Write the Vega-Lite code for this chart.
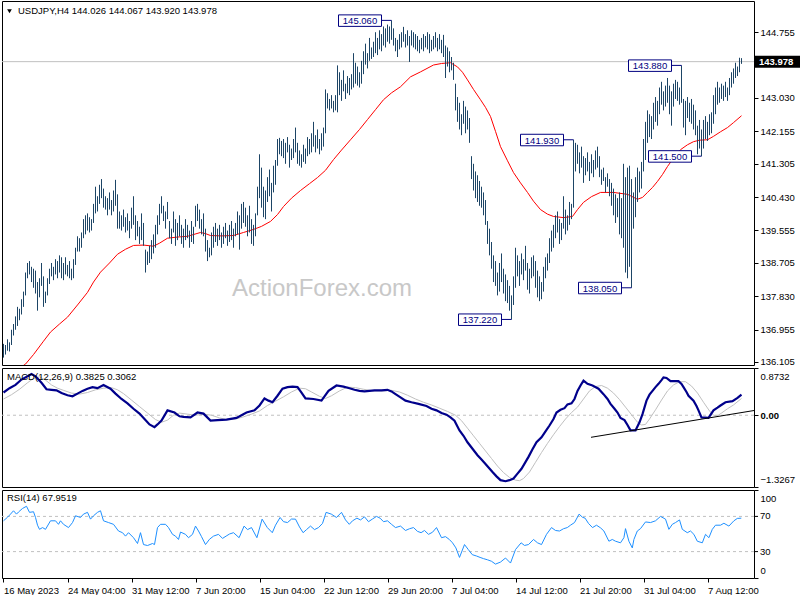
{
"$schema":"https://vega.github.io/schema/vega-lite/v6.json",
"background":"white",
"padding":{"left":-2,"top":0,"right":0,"bottom":0},
"bounds":"flush",
"spacing":3,
"config":{"view":{"stroke":"#000000","strokeWidth":1},"font":"Liberation Sans","axis":{"labelFont":"Liberation Sans","labelFontSize":9.5,"labelColor":"#000000","tickColor":"#000000","domain":false,"grid":false,"title":null,"labelOverlap":false}},
"datasets":{
"bars":[
{"i":0,"high":136.58,"low":136.22},{"i":1,"high":136.55,"low":136.30},{"i":2,"high":136.70,"low":136.40},{"i":3,"high":136.62,"low":136.38},{"i":4,"high":136.95,"low":136.55},
{"i":5,"high":137.10,"low":136.80},{"i":6,"high":137.30,"low":136.95},{"i":7,"high":137.55,"low":137.05},{"i":8,"high":137.50,"low":137.20},{"i":9,"high":137.75,"low":137.35},
{"i":10,"high":137.95,"low":137.55},{"i":11,"high":138.45,"low":137.85},{"i":12,"high":138.70,"low":138.30},{"i":13,"high":138.75,"low":138.40},{"i":14,"high":138.60,"low":138.20},
{"i":15,"high":138.55,"low":138.05},{"i":16,"high":138.50,"low":137.90},{"i":17,"high":138.20,"low":137.45},{"i":18,"high":138.30,"low":137.80},{"i":19,"high":138.70,"low":138.10},
{"i":20,"high":138.35,"low":137.55},{"i":21,"high":137.95,"low":137.65},{"i":22,"high":138.30,"low":137.85},{"i":23,"high":138.55,"low":138.15},{"i":24,"high":138.70,"low":138.35},
{"i":25,"high":138.60,"low":138.25},{"i":26,"high":138.80,"low":138.40},{"i":27,"high":138.75,"low":138.30},{"i":28,"high":138.90,"low":138.45},{"i":29,"high":138.85,"low":138.30},
{"i":30,"high":138.70,"low":138.25},{"i":31,"high":138.85,"low":138.40},{"i":32,"high":138.65,"low":138.35},{"i":33,"high":138.75,"low":138.30},{"i":34,"high":138.55,"low":138.25},
{"i":35,"high":138.80,"low":138.30},{"i":36,"high":139.10,"low":138.65},{"i":37,"high":139.40,"low":139.00},{"i":38,"high":139.35,"low":139.00},{"i":39,"high":139.50,"low":139.10},
{"i":40,"high":139.85,"low":139.35},{"i":41,"high":139.95,"low":139.45},{"i":42,"high":140.00,"low":139.55},{"i":43,"high":139.90,"low":139.50},{"i":44,"high":139.85,"low":139.55},
{"i":45,"high":140.25,"low":139.75},{"i":46,"high":140.70,"low":140.00},{"i":47,"high":140.45,"low":140.05},{"i":48,"high":140.75,"low":140.25},{"i":49,"high":140.90,"low":140.40},
{"i":50,"high":140.65,"low":140.15},{"i":51,"high":140.45,"low":140.10},{"i":52,"high":140.40,"low":139.95},{"i":53,"high":140.55,"low":140.10},{"i":54,"high":140.35,"low":139.95},
{"i":55,"high":140.60,"low":140.05},{"i":56,"high":140.88,"low":140.20},{"i":57,"high":140.50,"low":139.60},{"i":58,"high":140.05,"low":139.60},{"i":59,"high":139.95,"low":139.55},
{"i":60,"high":140.10,"low":139.65},{"i":61,"high":139.90,"low":139.50},{"i":62,"high":140.00,"low":139.55},{"i":63,"high":139.80,"low":139.35},{"i":64,"high":140.15,"low":139.60},
{"i":65,"high":140.45,"low":139.70},{"i":66,"high":139.95,"low":139.30},{"i":67,"high":139.80,"low":139.40},{"i":68,"high":139.65,"low":139.20},{"i":69,"high":140.00,"low":139.30},
{"i":70,"high":139.75,"low":139.15},{"i":71,"high":139.05,"low":138.45},{"i":72,"high":139.00,"low":138.65},{"i":73,"high":139.15,"low":138.70},{"i":74,"high":139.30,"low":138.80},
{"i":75,"high":139.45,"low":138.95},{"i":76,"high":139.70,"low":139.10},{"i":77,"high":139.95,"low":139.45},{"i":78,"high":140.25,"low":139.70},{"i":79,"high":140.45,"low":140.00},
{"i":80,"high":140.20,"low":139.80},{"i":81,"high":140.05,"low":139.60},{"i":82,"high":140.30,"low":139.85},{"i":83,"high":139.80,"low":139.35},{"i":84,"high":139.60,"low":139.20},
{"i":85,"high":140.05,"low":139.50},{"i":86,"high":139.85,"low":139.15},{"i":87,"high":139.75,"low":139.30},{"i":88,"high":139.95,"low":139.40},{"i":89,"high":139.70,"low":139.20},
{"i":90,"high":139.60,"low":139.10},{"i":91,"high":139.85,"low":139.30},{"i":92,"high":139.70,"low":139.35},{"i":93,"high":139.55,"low":139.10},{"i":94,"high":139.80,"low":139.25},
{"i":95,"high":139.65,"low":139.20},{"i":96,"high":140.20,"low":139.65},{"i":97,"high":140.25,"low":139.80},{"i":98,"high":140.10,"low":139.60},{"i":99,"high":139.85,"low":139.45},
{"i":100,"high":140.00,"low":139.40},{"i":101,"high":139.60,"low":139.00},{"i":102,"high":139.30,"low":138.75},{"i":103,"high":139.10,"low":138.85},{"i":104,"high":139.50,"low":138.90},
{"i":105,"high":139.65,"low":139.10},{"i":106,"high":139.75,"low":139.25},{"i":107,"high":139.60,"low":139.15},{"i":108,"high":139.70,"low":139.30},{"i":109,"high":139.50,"low":139.10},
{"i":110,"high":139.65,"low":139.20},{"i":111,"high":139.75,"low":139.35},{"i":112,"high":139.55,"low":139.15},{"i":113,"high":139.70,"low":139.25},{"i":114,"high":139.80,"low":139.30},
{"i":115,"high":139.60,"low":139.10},{"i":116,"high":139.75,"low":139.40},{"i":117,"high":140.05,"low":139.45},{"i":118,"high":139.95,"low":139.05},{"i":119,"high":140.25,"low":139.60},
{"i":120,"high":140.30,"low":139.75},{"i":121,"high":140.15,"low":139.65},{"i":122,"high":139.95,"low":139.40},{"i":123,"high":140.20,"low":139.50},{"i":124,"high":139.85,"low":139.20},
{"i":125,"high":139.70,"low":139.15},{"i":126,"high":140.00,"low":139.40},{"i":127,"high":140.70,"low":139.95},{"i":128,"high":141.55,"low":140.40},{"i":129,"high":141.20,"low":140.15},
{"i":130,"high":140.70,"low":139.90},{"i":131,"high":140.60,"low":139.85},{"i":132,"high":140.95,"low":140.30},{"i":133,"high":141.15,"low":140.45},{"i":134,"high":140.80,"low":140.05},
{"i":135,"high":141.25,"low":140.55},{"i":136,"high":141.40,"low":140.75},{"i":137,"high":141.95,"low":141.25},{"i":138,"high":141.98,"low":141.55},{"i":139,"high":141.90,"low":141.50},
{"i":140,"high":141.95,"low":141.45},{"i":141,"high":141.85,"low":141.30},{"i":142,"high":142.00,"low":141.60},{"i":143,"high":141.80,"low":141.20},{"i":144,"high":141.70,"low":141.40},
{"i":145,"high":141.95,"low":141.45},{"i":146,"high":142.25,"low":141.60},{"i":147,"high":141.85,"low":141.30},{"i":148,"high":141.65,"low":141.25},{"i":149,"high":141.55,"low":141.20},
{"i":150,"high":141.80,"low":141.35},{"i":151,"high":141.70,"low":141.30},{"i":152,"high":142.00,"low":141.50},{"i":153,"high":141.95,"low":141.55},{"i":154,"high":142.10,"low":141.60},
{"i":155,"high":142.40,"low":141.75},{"i":156,"high":142.05,"low":141.60},{"i":157,"high":142.20,"low":141.70},{"i":158,"high":141.95,"low":141.55},{"i":159,"high":142.10,"low":141.65},
{"i":160,"high":142.25,"low":141.75},{"i":161,"high":143.25,"low":142.10},{"i":162,"high":143.15,"low":142.75},{"i":163,"high":143.00,"low":142.70},{"i":164,"high":143.10,"low":142.75},
{"i":165,"high":142.95,"low":142.65},{"i":166,"high":143.10,"low":142.70},{"i":167,"high":143.88,"low":142.65},{"i":168,"high":143.70,"low":143.10},{"i":169,"high":143.50,"low":142.95},
{"i":170,"high":143.75,"low":143.20},{"i":171,"high":143.40,"low":143.00},{"i":172,"high":143.60,"low":143.15},{"i":173,"high":143.55,"low":143.10},{"i":174,"high":143.65,"low":143.25},
{"i":175,"high":144.20,"low":143.30},{"i":176,"high":143.95,"low":143.40},{"i":177,"high":143.85,"low":143.35},{"i":178,"high":143.70,"low":143.30},{"i":179,"high":144.00,"low":143.40},
{"i":180,"high":144.25,"low":143.65},{"i":181,"high":144.45,"low":143.90},{"i":182,"high":144.20,"low":143.80},{"i":183,"high":144.60,"low":144.00},{"i":184,"high":144.35,"low":144.05},
{"i":185,"high":144.50,"low":144.10},{"i":186,"high":144.75,"low":144.20},{"i":187,"high":144.60,"low":144.15},{"i":188,"high":144.80,"low":144.30},{"i":189,"high":144.70,"low":144.25},
{"i":190,"high":144.90,"low":144.40},{"i":191,"high":144.85,"low":144.35},{"i":192,"high":144.95,"low":144.50},{"i":193,"high":144.90,"low":144.45},{"i":194,"high":145.06,"low":144.55},
{"i":195,"high":144.85,"low":144.40},{"i":196,"high":144.60,"low":144.25},{"i":197,"high":144.55,"low":144.10},{"i":198,"high":144.70,"low":144.30},{"i":199,"high":144.75,"low":144.35},
{"i":200,"high":144.89,"low":144.50},{"i":201,"high":144.70,"low":144.35},{"i":202,"high":144.80,"low":144.40},{"i":203,"high":144.65,"low":143.97},{"i":204,"high":144.80,"low":144.40},
{"i":205,"high":144.75,"low":144.35},{"i":206,"high":144.70,"low":144.30},{"i":207,"high":144.65,"low":144.25},{"i":208,"high":144.55,"low":144.20},{"i":209,"high":144.60,"low":144.30},
{"i":210,"high":144.70,"low":144.25},{"i":211,"high":144.65,"low":144.35},{"i":212,"high":144.75,"low":144.30},{"i":213,"high":144.70,"low":144.20},{"i":214,"high":144.55,"low":144.25},
{"i":215,"high":144.65,"low":144.30},{"i":216,"high":144.75,"low":144.35},{"i":217,"high":144.60,"low":144.25},{"i":218,"high":144.70,"low":144.30},{"i":219,"high":144.55,"low":144.20},
{"i":220,"high":144.68,"low":144.10},{"i":221,"high":144.40,"low":143.55},{"i":222,"high":144.35,"low":143.85},{"i":223,"high":144.25,"low":143.70},{"i":224,"high":144.10,"low":143.75},
{"i":225,"high":143.95,"low":143.50},{"i":226,"high":143.40,"low":142.70},{"i":227,"high":143.05,"low":142.40},{"i":228,"high":142.90,"low":142.20},{"i":229,"high":142.60,"low":142.05},
{"i":230,"high":142.95,"low":142.35},{"i":231,"high":142.80,"low":142.10},{"i":232,"high":142.70,"low":142.20},{"i":233,"high":142.50,"low":141.85},{"i":234,"high":141.50,"low":140.90},
{"i":235,"high":141.30,"low":140.60},{"i":236,"high":141.10,"low":140.40},{"i":237,"high":141.00,"low":140.30},{"i":238,"high":140.85,"low":140.20},{"i":239,"high":140.70,"low":140.15},
{"i":240,"high":140.55,"low":139.95},{"i":241,"high":140.35,"low":139.70},{"i":242,"high":139.80,"low":139.20},{"i":243,"high":139.60,"low":138.90},{"i":244,"high":139.25,"low":138.55},
{"i":245,"high":138.90,"low":138.20},{"i":246,"high":138.75,"low":138.10},{"i":247,"high":138.45,"low":137.85},{"i":248,"high":138.70,"low":137.95},{"i":249,"high":138.95,"low":138.20},
{"i":250,"high":138.55,"low":137.90},{"i":251,"high":138.40,"low":137.70},{"i":252,"high":138.25,"low":137.65},{"i":253,"high":138.10,"low":137.45},{"i":254,"high":137.85,"low":137.22},
{"i":255,"high":138.35,"low":137.60},{"i":256,"high":139.10,"low":138.05},{"i":257,"high":138.90,"low":138.35},{"i":258,"high":138.75,"low":138.10},{"i":259,"high":138.95,"low":138.40},
{"i":260,"high":138.80,"low":138.25},{"i":261,"high":139.15,"low":138.50},{"i":262,"high":138.70,"low":138.00},{"i":263,"high":138.55,"low":137.90},{"i":264,"high":138.85,"low":138.30},
{"i":265,"high":138.90,"low":138.35},{"i":266,"high":138.75,"low":138.05},{"i":267,"high":138.50,"low":137.80},{"i":268,"high":138.35,"low":137.70},{"i":269,"high":138.20,"low":137.75},
{"i":270,"high":138.60,"low":137.95},{"i":271,"high":138.85,"low":138.30},{"i":272,"high":138.95,"low":138.50},{"i":273,"high":139.35,"low":138.70},{"i":274,"high":139.55,"low":139.00},
{"i":275,"high":139.70,"low":139.10},{"i":276,"high":139.95,"low":139.35},{"i":277,"high":140.05,"low":139.50},{"i":278,"high":139.85,"low":139.20},{"i":279,"high":139.75,"low":139.30},
{"i":280,"high":140.45,"low":139.60},{"i":281,"high":140.10,"low":139.45},{"i":282,"high":139.95,"low":139.55},{"i":283,"high":140.30,"low":139.70},{"i":284,"high":140.25,"low":139.85},
{"i":285,"high":141.93,"low":140.15},{"i":286,"high":141.85,"low":141.10},{"i":287,"high":141.80,"low":141.30},{"i":288,"high":141.60,"low":141.05},{"i":289,"high":141.75,"low":141.20},
{"i":290,"high":141.50,"low":140.80},{"i":291,"high":141.45,"low":141.00},{"i":292,"high":141.60,"low":141.10},{"i":293,"high":141.35,"low":140.85},{"i":294,"high":141.55,"low":141.05},
{"i":295,"high":141.40,"low":140.95},{"i":296,"high":141.65,"low":141.15},{"i":297,"high":141.75,"low":141.20},{"i":298,"high":141.50,"low":140.95},{"i":299,"high":141.15,"low":140.75},
{"i":300,"high":141.20,"low":140.85},{"i":301,"high":140.95,"low":140.55},{"i":302,"high":141.05,"low":140.70},{"i":303,"high":140.90,"low":140.45},{"i":304,"high":140.80,"low":140.20},
{"i":305,"high":140.65,"low":139.95},{"i":306,"high":140.50,"low":139.75},{"i":307,"high":140.40,"low":139.90},{"i":308,"high":140.55,"low":139.45},{"i":309,"high":140.40,"low":139.35},
{"i":310,"high":141.30,"low":139.10},{"i":311,"high":140.95,"low":138.45},{"i":312,"high":141.20,"low":138.30},{"i":313,"high":141.25,"low":138.60},{"i":314,"high":140.90,"low":138.05},
{"i":315,"high":140.55,"low":139.60},{"i":316,"high":140.95,"low":139.90},{"i":317,"high":141.20,"low":140.30},{"i":318,"high":141.10,"low":140.55},{"i":319,"high":141.35,"low":140.65},
{"i":320,"high":141.95,"low":141.10},{"i":321,"high":142.40,"low":141.40},{"i":322,"high":142.70,"low":141.85},{"i":323,"high":142.60,"low":142.00},{"i":324,"high":142.55,"low":141.95},
{"i":325,"high":142.90,"low":142.20},{"i":326,"high":143.05,"low":142.40},{"i":327,"high":142.95,"low":142.30},{"i":328,"high":143.30,"low":142.60},{"i":329,"high":143.45,"low":142.85},
{"i":330,"high":143.20,"low":142.70},{"i":331,"high":143.35,"low":142.80},{"i":332,"high":143.55,"low":142.90},{"i":333,"high":143.35,"low":142.60},{"i":334,"high":143.20,"low":142.30},
{"i":335,"high":143.40,"low":142.80},{"i":336,"high":143.50,"low":143.00},{"i":337,"high":143.45,"low":142.95},{"i":338,"high":143.30,"low":142.85},{"i":339,"high":143.88,"low":142.90},
{"i":340,"high":143.00,"low":142.25},{"i":341,"high":142.95,"low":142.05},{"i":342,"high":143.05,"low":142.50},{"i":343,"high":142.90,"low":142.40},{"i":344,"high":143.00,"low":142.35},
{"i":345,"high":142.85,"low":142.20},{"i":346,"high":142.70,"low":142.05},{"i":347,"high":142.30,"low":141.55},{"i":348,"high":142.45,"low":141.70},{"i":349,"high":142.20,"low":141.50},
{"i":350,"high":142.45,"low":141.70},{"i":351,"high":142.55,"low":141.95},{"i":352,"high":142.40,"low":141.90},{"i":353,"high":142.60,"low":142.05},{"i":354,"high":142.65,"low":142.10},
{"i":355,"high":143.10,"low":142.35},{"i":356,"high":143.30,"low":142.60},{"i":357,"high":143.45,"low":142.85},{"i":358,"high":143.30,"low":142.90},{"i":359,"high":143.40,"low":143.00},
{"i":360,"high":143.35,"low":142.95},{"i":361,"high":143.45,"low":143.05},{"i":362,"high":143.30,"low":142.95},{"i":363,"high":143.55,"low":143.10},{"i":364,"high":143.70,"low":143.30},
{"i":365,"high":143.80,"low":143.40},{"i":366,"high":143.95,"low":143.55},{"i":367,"high":143.85,"low":143.60},{"i":368,"high":144.08,"low":143.70},{"i":369,"high":144.07,"low":143.92}
],
"ma":[
{"i":9,"ma":135.98},{"i":11,"ma":136.05},{"i":15,"ma":136.3},{"i":20,"ma":136.65},{"i":23.5,"ma":136.89},{"i":28,"ma":137.1},{"i":32,"ma":137.28},{"i":37,"ma":137.6},{"i":42,"ma":137.93},{"i":45,"ma":138.2},{"i":48.5,"ma":138.46},{"i":53,"ma":138.7},{"i":57,"ma":138.93},{"i":61,"ma":139.06},{"i":65,"ma":139.16},{"i":70,"ma":139.17},{"i":75,"ma":139.14},{"i":78,"ma":139.22},{"i":82,"ma":139.35},{"i":87,"ma":139.38},{"i":92,"ma":139.40},{"i":98.5,"ma":139.50},{"i":101,"ma":139.47},{"i":103.5,"ma":139.42},{"i":109,"ma":139.41},{"i":115,"ma":139.42},{"i":120,"ma":139.5},{"i":125,"ma":139.58},{"i":129,"ma":139.66},{"i":133.5,"ma":139.79},{"i":137,"ma":139.97},{"i":140,"ma":140.18},{"i":144,"ma":140.4},{"i":148.5,"ma":140.60},{"i":153,"ma":140.78},{"i":157,"ma":140.94},{"i":161,"ma":141.13},{"i":165,"ma":141.41},{"i":169,"ma":141.66},{"i":173.5,"ma":141.93},{"i":178,"ma":142.2},{"i":182,"ma":142.46},{"i":186,"ma":142.72},{"i":190,"ma":142.98},{"i":194,"ma":143.16},{"i":198.5,"ma":143.32},{"i":203.5,"ma":143.58},{"i":208.5,"ma":143.71},{"i":215,"ma":143.89},{"i":219,"ma":143.93},{"i":223.5,"ma":143.95},{"i":227,"ma":143.84},{"i":229.5,"ma":143.7},{"i":232,"ma":143.50},{"i":235,"ma":143.25},{"i":238.5,"ma":142.98},{"i":241,"ma":142.78},{"i":243.5,"ma":142.54},{"i":246,"ma":142.15},{"i":248.5,"ma":141.75},{"i":252,"ma":141.38},{"i":255,"ma":141.07},{"i":258.5,"ma":140.8},{"i":262,"ma":140.55},{"i":265,"ma":140.32},{"i":268.5,"ma":140.10},{"i":272,"ma":139.98},{"i":275,"ma":139.92},{"i":280,"ma":139.89},{"i":284.5,"ma":139.92},{"i":287,"ma":140.1},{"i":290,"ma":140.29},{"i":294,"ma":140.44},{"i":298.5,"ma":140.55},{"i":305,"ma":140.55},{"i":312,"ma":140.50},{"i":317,"ma":140.37},{"i":319.5,"ma":140.42},{"i":322,"ma":140.55},{"i":324.5,"ma":140.68},{"i":327,"ma":140.84},{"i":329.5,"ma":141.02},{"i":332,"ma":141.23},{"i":335,"ma":141.45},{"i":338.5,"ma":141.67},{"i":342,"ma":141.8},{"i":345,"ma":141.88},{"i":348,"ma":141.92},{"i":352,"ma":141.93},{"i":355,"ma":142.02},{"i":358.5,"ma":142.14},{"i":362,"ma":142.25},{"i":365,"ma":142.38},{"i":369,"ma":142.56}
],
"macd":[
{"i":0,"v":0.42},{"i":3,"v":0.50},{"i":6,"v":0.56},{"i":9,"v":0.66},{"i":12.5,"v":0.73},{"i":14,"v":0.76},{"i":16,"v":0.72},{"i":19,"v":0.60},{"i":21.5,"v":0.48},{"i":24,"v":0.47},{"i":26.5,"v":0.46},{"i":29,"v":0.41},{"i":32,"v":0.37},{"i":34.5,"v":0.35},{"i":37,"v":0.40},{"i":39.5,"v":0.45},{"i":42,"v":0.49},{"i":44.5,"v":0.52},{"i":47,"v":0.50},{"i":50,"v":0.56},{"i":53.5,"v":0.49},{"i":56,"v":0.40},{"i":59,"v":0.30},{"i":62,"v":0.22},{"i":65,"v":0.12},{"i":68,"v":0.03},{"i":70.5,"v":-0.07},{"i":73,"v":-0.17},{"i":75.5,"v":-0.22},{"i":77,"v":-0.17},{"i":79,"v":-0.10},{"i":82,"v":0.09},{"i":85.5,"v":0.05},{"i":88,"v":-0.02},{"i":90,"v":-0.03},{"i":93.5,"v":-0.04},{"i":97,"v":0.05},{"i":100,"v":0.03},{"i":103.5,"v":-0.10},{"i":107,"v":-0.09},{"i":111.5,"v":-0.08},{"i":116.5,"v":-0.05},{"i":119,"v":0.0},{"i":121.5,"v":0.05},{"i":125.5,"v":0.09},{"i":128,"v":0.18},{"i":130.5,"v":0.31},{"i":132.5,"v":0.27},{"i":134.5,"v":0.24},{"i":137,"v":0.36},{"i":139.5,"v":0.49},{"i":142,"v":0.52},{"i":144.5,"v":0.53},{"i":147,"v":0.52},{"i":149,"v":0.42},{"i":151,"v":0.31},{"i":155,"v":0.30},{"i":159,"v":0.27},{"i":162.5,"v":0.45},{"i":166.5,"v":0.55},{"i":170,"v":0.53},{"i":173,"v":0.50},{"i":175.5,"v":0.47},{"i":178,"v":0.45},{"i":180.5,"v":0.44},{"i":185.5,"v":0.46},{"i":189,"v":0.46},{"i":192,"v":0.47},{"i":194,"v":0.44},{"i":196,"v":0.39},{"i":198.5,"v":0.33},{"i":201,"v":0.27},{"i":204,"v":0.24},{"i":207.5,"v":0.21},{"i":211.5,"v":0.17},{"i":214,"v":0.12},{"i":216.5,"v":0.09},{"i":219,"v":0.04},{"i":221.5,"v":0.01},{"i":223.5,"v":-0.04},{"i":225.5,"v":-0.10},{"i":228,"v":-0.28},{"i":230,"v":-0.38},{"i":232,"v":-0.50},{"i":234.5,"v":-0.62},{"i":237,"v":-0.74},{"i":239,"v":-0.82},{"i":241,"v":-0.90},{"i":244.5,"v":-1.05},{"i":246.5,"v":-1.13},{"i":248.5,"v":-1.20},{"i":251,"v":-1.22},{"i":253,"v":-1.20},{"i":255,"v":-1.17},{"i":257,"v":-1.08},{"i":259,"v":-0.99},{"i":262.5,"v":-0.77},{"i":264.5,"v":-0.63},{"i":266.5,"v":-0.50},{"i":269,"v":-0.41},{"i":271,"v":-0.30},{"i":273,"v":-0.19},{"i":275,"v":-0.07},{"i":276.5,"v":0.05},{"i":278.5,"v":0.10},{"i":280.5,"v":0.13},{"i":282,"v":0.20},{"i":284,"v":0.22},{"i":285.5,"v":0.30},{"i":287,"v":0.45},{"i":288.5,"v":0.55},{"i":290,"v":0.64},{"i":292,"v":0.58},{"i":294.5,"v":0.55},{"i":297.5,"v":0.49},{"i":300,"v":0.39},{"i":302,"v":0.30},{"i":303.5,"v":0.21},{"i":305.5,"v":0.12},{"i":307,"v":0.05},{"i":308.5,"v":-0.05},{"i":310.5,"v":-0.09},{"i":312,"v":-0.18},{"i":313.5,"v":-0.28},{"i":316,"v":-0.28},{"i":318,"v":-0.13},{"i":319.5,"v":0.02},{"i":321.5,"v":0.27},{"i":323,"v":0.38},{"i":324.5,"v":0.45},{"i":326,"v":0.52},{"i":327.5,"v":0.58},{"i":329,"v":0.65},{"i":330,"v":0.70},{"i":331.5,"v":0.69},{"i":333.5,"v":0.63},{"i":337.5,"v":0.63},{"i":339,"v":0.58},{"i":340,"v":0.52},{"i":341.5,"v":0.43},{"i":342.5,"v":0.36},{"i":345,"v":0.27},{"i":346.5,"v":0.17},{"i":347.5,"v":0.09},{"i":349,"v":-0.04},{"i":352.5,"v":-0.05},{"i":355,"v":0.09},{"i":357,"v":0.14},{"i":358.5,"v":0.18},{"i":361,"v":0.24},{"i":364.5,"v":0.26},{"i":367,"v":0.32},{"i":369,"v":0.38}
],
"signal":[
{"i":0,"v":0.30},{"i":4,"v":0.38},{"i":8,"v":0.48},{"i":12,"v":0.60},{"i":15,"v":0.68},{"i":18,"v":0.71},{"i":21,"v":0.65},{"i":24,"v":0.56},{"i":27,"v":0.50},{"i":30,"v":0.46},{"i":34,"v":0.41},{"i":38,"v":0.39},{"i":42,"v":0.42},{"i":46,"v":0.47},{"i":50,"v":0.50},{"i":54,"v":0.51},{"i":57,"v":0.47},{"i":60,"v":0.40},{"i":64,"v":0.28},{"i":68,"v":0.16},{"i":72,"v":0.04},{"i":76,"v":-0.08},{"i":79,"v":-0.13},{"i":82,"v":-0.09},{"i":85,"v":0.00},{"i":88,"v":0.04},{"i":92,"v":0.02},{"i":96,"v":0.00},{"i":100,"v":0.02},{"i":104,"v":0.00},{"i":108,"v":-0.05},{"i":112,"v":-0.08},{"i":116,"v":-0.07},{"i":120,"v":-0.03},{"i":124,"v":0.02},{"i":128,"v":0.08},{"i":132,"v":0.18},{"i":136,"v":0.26},{"i":140,"v":0.34},{"i":144,"v":0.43},{"i":148,"v":0.50},{"i":151,"v":0.49},{"i":154,"v":0.43},{"i":158,"v":0.35},{"i":161,"v":0.31},{"i":164,"v":0.36},{"i":168,"v":0.45},{"i":172,"v":0.52},{"i":176,"v":0.51},{"i":180,"v":0.48},{"i":185,"v":0.45},{"i":190,"v":0.45},{"i":194,"v":0.46},{"i":198,"v":0.43},{"i":202,"v":0.37},{"i":206,"v":0.30},{"i":210,"v":0.24},{"i":214,"v":0.19},{"i":218,"v":0.13},{"i":222,"v":0.07},{"i":226,"v":0.00},{"i":229,"v":-0.10},{"i":232,"v":-0.24},{"i":235,"v":-0.38},{"i":238,"v":-0.52},{"i":241,"v":-0.66},{"i":244,"v":-0.80},{"i":247,"v":-0.94},{"i":250,"v":-1.06},{"i":253,"v":-1.15},{"i":256,"v":-1.20},{"i":258,"v":-1.21},{"i":260,"v":-1.17},{"i":263,"v":-1.05},{"i":266,"v":-0.87},{"i":269,"v":-0.69},{"i":272,"v":-0.52},{"i":275,"v":-0.36},{"i":278,"v":-0.21},{"i":281,"v":-0.07},{"i":284,"v":0.05},{"i":287,"v":0.15},{"i":290,"v":0.30},{"i":293,"v":0.45},{"i":296,"v":0.53},{"i":299,"v":0.55},{"i":302,"v":0.50},{"i":305,"v":0.41},{"i":308,"v":0.29},{"i":311,"v":0.15},{"i":314,"v":0.01},{"i":317,"v":-0.13},{"i":319,"v":-0.18},{"i":321,"v":-0.17},{"i":323,"v":-0.07},{"i":326,"v":0.10},{"i":329,"v":0.28},{"i":332,"v":0.45},{"i":335,"v":0.56},{"i":338,"v":0.62},{"i":341,"v":0.62},{"i":344,"v":0.54},{"i":347,"v":0.41},{"i":350,"v":0.24},{"i":353,"v":0.08},{"i":355,"v":0.00},{"i":357,"v":-0.01},{"i":359,"v":0.04},{"i":362,"v":0.12},{"i":365,"v":0.19},{"i":369,"v":0.31}
],
"rsi":[
{"i":0,"v":65},{"i":2,"v":69},{"i":3.5,"v":72.6},{"i":5,"v":76.4},{"i":6.5,"v":72.6},{"i":7.5,"v":75},{"i":9.5,"v":79},{"i":11.5,"v":81.5},{"i":13,"v":74.6},{"i":15,"v":75.3},{"i":16,"v":68.8},{"i":17,"v":60},{"i":18,"v":55.3},{"i":19.5,"v":57.3},{"i":21,"v":55.3},{"i":23.5,"v":65},{"i":26,"v":65},{"i":27.5,"v":61},{"i":28.5,"v":65},{"i":30,"v":61},{"i":32.5,"v":57.3},{"i":34.5,"v":63},{"i":36,"v":70.7},{"i":38.5,"v":68.8},{"i":40,"v":72.6},{"i":42,"v":74.6},{"i":43.5,"v":66.9},{"i":45,"v":70.7},{"i":47,"v":74.6},{"i":48.5,"v":76.4},{"i":50,"v":65},{"i":52.5,"v":63},{"i":55,"v":61},{"i":57.5,"v":53.4},{"i":59.5,"v":51.5},{"i":61,"v":47.6},{"i":62.5,"v":51.5},{"i":65,"v":45.8},{"i":67,"v":39.2},{"i":68.5,"v":51.5},{"i":70,"v":38},{"i":72,"v":36.9},{"i":74.5,"v":39.2},{"i":75.5,"v":38},{"i":77,"v":57.3},{"i":78.5,"v":61},{"i":81,"v":61},{"i":82.5,"v":57.3},{"i":84.5,"v":49.6},{"i":86,"v":47.6},{"i":87.5,"v":43.8},{"i":88.5,"v":52.2},{"i":91,"v":49.6},{"i":92.5,"v":45.8},{"i":94.5,"v":49.6},{"i":96,"v":59},{"i":97.5,"v":53.4},{"i":99,"v":47},{"i":101,"v":38},{"i":103,"v":44},{"i":105,"v":47.6},{"i":107.5,"v":49.6},{"i":109.5,"v":45},{"i":111.3,"v":47.6},{"i":113,"v":50},{"i":115,"v":51.5},{"i":117.8,"v":45.8},{"i":120.3,"v":59},{"i":122,"v":55},{"i":124,"v":57.3},{"i":126.7,"v":45.8},{"i":129.3,"v":66.9},{"i":131.9,"v":57.3},{"i":134.4,"v":51.5},{"i":136,"v":60},{"i":138.3,"v":68.8},{"i":140,"v":64},{"i":142,"v":63},{"i":144,"v":67},{"i":146,"v":66.9},{"i":148,"v":58},{"i":149.8,"v":51.5},{"i":151.5,"v":55},{"i":153.5,"v":59},{"i":155.5,"v":55},{"i":157.5,"v":57.3},{"i":159.5,"v":62},{"i":161.3,"v":74.6},{"i":163.9,"v":72.6},{"i":166.5,"v":68.8},{"i":169,"v":74.6},{"i":171,"v":66},{"i":172.9,"v":61},{"i":174.5,"v":65},{"i":176.7,"v":68},{"i":178.5,"v":66},{"i":180.5,"v":69.5},{"i":182.5,"v":64},{"i":184.4,"v":66.9},{"i":186.5,"v":70},{"i":188.3,"v":68},{"i":190,"v":64},{"i":192,"v":65},{"i":194,"v":61},{"i":196,"v":57.3},{"i":198.5,"v":59},{"i":201,"v":54},{"i":203,"v":56},{"i":205,"v":57.3},{"i":207,"v":53},{"i":208.8,"v":51.5},{"i":210.5,"v":54},{"i":212.5,"v":49.6},{"i":214.5,"v":52},{"i":216.5,"v":57.3},{"i":219,"v":45.8},{"i":221,"v":47},{"i":222.9,"v":43.8},{"i":224.5,"v":40},{"i":226.2,"v":34.2},{"i":228,"v":23.4},{"i":230.5,"v":38},{"i":232.4,"v":32.3},{"i":234.4,"v":26.5},{"i":236.5,"v":25},{"i":238.3,"v":23.4},{"i":240,"v":22},{"i":242,"v":20.7},{"i":244,"v":19},{"i":246,"v":15.8},{"i":248.5,"v":18.1},{"i":251,"v":22.7},{"i":253.5,"v":17},{"i":256,"v":32.3},{"i":258.8,"v":40},{"i":260.5,"v":37},{"i":262.5,"v":38},{"i":265,"v":43.8},{"i":267,"v":40},{"i":269,"v":38},{"i":271.5,"v":49.6},{"i":274,"v":57.3},{"i":276,"v":54},{"i":278,"v":53.4},{"i":280,"v":56},{"i":281.9,"v":57.3},{"i":283.5,"v":60},{"i":285.5,"v":63},{"i":287.8,"v":72.6},{"i":289.5,"v":69},{"i":290.8,"v":68},{"i":292.5,"v":62},{"i":294.5,"v":57.3},{"i":296.5,"v":60},{"i":298.5,"v":57},{"i":300.2,"v":53.4},{"i":302.7,"v":41.8},{"i":304.4,"v":43.8},{"i":306,"v":41.8},{"i":308.5,"v":40},{"i":310.2,"v":45.8},{"i":311,"v":56.1},{"i":312.7,"v":41.8},{"i":314.4,"v":34.2},{"i":315.2,"v":43.8},{"i":316.9,"v":53.4},{"i":318.5,"v":56.1},{"i":321,"v":63.7},{"i":323.5,"v":63},{"i":326,"v":65},{"i":328.5,"v":70},{"i":331,"v":66.9},{"i":332.7,"v":55.3},{"i":334.4,"v":61},{"i":336,"v":63},{"i":338,"v":66},{"i":339.4,"v":55.3},{"i":341.9,"v":51.5},{"i":343.5,"v":53.4},{"i":345.2,"v":49.6},{"i":346.9,"v":41.8},{"i":349.4,"v":40},{"i":351,"v":49.6},{"i":352.7,"v":45.8},{"i":354.4,"v":55.3},{"i":356,"v":60},{"i":358.5,"v":60},{"i":360.2,"v":62.2},{"i":362.7,"v":59},{"i":365.2,"v":65},{"i":366.9,"v":67.7},{"i":368.9,"v":68}
],
"notes":[
{"i":194,"p":145.06,"t":"145.060"},{"i":339,"p":143.88,"t":"143.880"},{"i":285,"p":141.93,"t":"141.930"},{"i":349,"p":141.5,"t":"141.500"},{"i":314,"p":138.05,"t":"138.050"},{"i":254,"p":137.22,"t":"137.220"}
],
"trend":[{"i":293.75,"v":-0.408},{"i":375.25,"v":0.087}],
"levels":[{"lv":30,"t":"30"},{"lv":70,"t":"70"}]
},
"vconcat":[
{
"width":752,"height":364,
"layer":[
{"mark":{"type":"rule","color":"#c0c0c0","strokeWidth":1},"data":{"values":[{"p":143.978}]},
 "encoding":{"y":{"field":"p","type":"quantitative","scale":{"domain":[136.026,145.568],"nice":false,"zero":false},
   "axis":{"orient":"right","values":[136.105,136.955,137.83,138.705,139.555,140.43,141.305,142.155,143.03,144.755],"format":".3f","tickSize":4,"labelPadding":2,"labelFlush":false,"title":null}}}},
{"mark":{"type":"text","font":"Liberation Sans","fontSize":24,"color":"#c8c8c8","align":"center","baseline":"middle"},"data":{"values":[{"t":"ActionForex.com"}]},
 "encoding":{"text":{"field":"t"},"x":{"datum":159.25,"type":"quantitative","scale":{"domain":[-0.75,375.25],"nice":false,"zero":false},"axis":null},"y":{"datum":138.01,"type":"quantitative"}}},
{"mark":{"type":"line","color":"#ff0000","strokeWidth":1,"clip":true},"data":{"name":"ma"},
 "encoding":{"x":{"field":"i","type":"quantitative","axis":null},"y":{"field":"ma","type":"quantitative"}}},
{"mark":{"type":"rule","color":"#1d4566","strokeWidth":1},"data":{"name":"bars"},
 "encoding":{"x":{"field":"i","type":"quantitative","axis":null},"y":{"field":"low","type":"quantitative"},"y2":{"field":"high"}}},
{"mark":{"type":"rule","color":"#000080","strokeWidth":1,"xOffset":-10},"data":{"name":"notes"},
 "encoding":{"x":{"field":"i","type":"quantitative","axis":null},"x2":{"field":"i"},"y":{"field":"p","type":"quantitative"}}},
{"mark":{"type":"rect","fill":"#ffffff","stroke":"#000080","strokeWidth":1,"xOffset":-53,"x2Offset":-10,"yOffset":-5.5,"y2Offset":6},"data":{"name":"notes"},
 "encoding":{"x":{"field":"i","type":"quantitative","axis":null},"x2":{"field":"i"},"y":{"field":"p","type":"quantitative"},"y2":{"field":"p"}}},
{"mark":{"type":"text","font":"Liberation Sans","fontSize":9.5,"color":"#000080","align":"center","baseline":"middle","dx":-31.5,"dy":1},"data":{"name":"notes"},
 "encoding":{"x":{"field":"i","type":"quantitative","axis":null},"y":{"field":"p","type":"quantitative"},"text":{"field":"t"}}},
{"mark":{"type":"point","shape":"triangle-down","filled":true,"color":"#000000","size":22,"opacity":1},"data":{"values":[{"n":1}]},
 "encoding":{"x":{"datum":3,"type":"quantitative","axis":null},"y":{"datum":145.3,"type":"quantitative"}}},
{"mark":{"type":"text","font":"Liberation Sans","fontSize":9.5,"color":"#000000","align":"left","baseline":"middle","dx":16},"data":{"values":[{"t":"USDJPY,H4  144.026 144.067 143.920 143.978"}]},
 "encoding":{"x":{"datum":-0.75,"type":"quantitative","axis":null},"y":{"datum":145.3,"type":"quantitative"},"text":{"field":"t"}}},
{"mark":{"type":"rect","fill":"#000000","xOffset":1,"x2Offset":46,"yOffset":-6,"y2Offset":6},"data":{"values":[{"p":143.978}]},
 "encoding":{"x":{"datum":375.25,"type":"quantitative","axis":null},"x2":{"datum":375.25},"y":{"field":"p","type":"quantitative"},"y2":{"field":"p"}}},
{"mark":{"type":"text","font":"Liberation Sans","fontSize":9.5,"fontWeight":"bold","color":"#ffffff","align":"left","baseline":"middle","dx":5},"data":{"values":[{"p":143.978,"t":"143.978"}]},
 "encoding":{"x":{"datum":375.25,"type":"quantitative","axis":null},"y":{"field":"p","type":"quantitative"},"text":{"field":"t"}}}
]
},
{
"width":752,"height":119,
"layer":[
{"mark":{"type":"rule","color":"#c0c0c0","strokeWidth":1,"strokeDash":[3,3]},"data":{"values":[{"z":0}]},
 "encoding":{"y":{"field":"z","type":"quantitative","scale":{"domain":[-1.3267,0.8732],"nice":false,"zero":false},
   "axis":{"orient":"right","values":[-1.3267,0,0.8732],"labelExpr":"datum.value == 0 ? '0.00' : format(datum.value, '.4f')","labelFontWeight":{"condition":{"test":"datum.value == 0","value":"bold"},"value":"normal"},"tickSize":4,"labelPadding":2,"labelFlush":true,"labelFlushOffset":-3,"title":null}}}},
{"mark":{"type":"line","color":"#c0c0c0","strokeWidth":1},"data":{"name":"signal"},
 "encoding":{"x":{"field":"i","type":"quantitative","scale":{"domain":[-0.75,375.25],"nice":false,"zero":false},"axis":null},"y":{"field":"v","type":"quantitative"}}},
{"mark":{"type":"line","color":"#00008b","strokeWidth":2.2},"data":{"name":"macd"},
 "encoding":{"x":{"field":"i","type":"quantitative","axis":null},"y":{"field":"v","type":"quantitative"}}},
{"mark":{"type":"line","color":"#000000","strokeWidth":1},"data":{"name":"trend"},
 "encoding":{"x":{"field":"i","type":"quantitative","axis":null},"y":{"field":"v","type":"quantitative"}}},
{"mark":{"type":"text","font":"Liberation Sans","fontSize":9.5,"color":"#000000","align":"left","baseline":"middle","dx":5},"data":{"values":[{"t":"MACD(12,26,9) 0.3825 0.3062"}]},
 "encoding":{"x":{"datum":-0.75,"type":"quantitative","axis":null},"y":{"datum":0.712,"type":"quantitative"},"text":{"field":"t"}}}
]
},
{
"width":752,"height":88,
"layer":[
{"mark":{"type":"rule","color":"#c0c0c0","strokeWidth":1,"strokeDash":[3,3]},"data":{"name":"levels"},
 "encoding":{"y":{"field":"lv","type":"quantitative","scale":{"domain":[0,100],"nice":false,"zero":false},
   "axis":{"orient":"right","values":[0,100],"format":"d","tickSize":4,"labelPadding":2,"labelFlush":true,"labelFlushOffset":-3,"title":null}}}},
{"mark":{"type":"rule","color":"#000000","strokeWidth":1,"x2Offset":4},"data":{"name":"levels"},
 "encoding":{"x":{"datum":375.25,"type":"quantitative"},"x2":{"datum":375.25},"y":{"field":"lv","type":"quantitative"}}},
{"mark":{"type":"text","font":"Liberation Sans","fontSize":9.5,"color":"#000000","align":"left","baseline":"middle","dx":6},"data":{"name":"levels"},
 "encoding":{"x":{"datum":375.25,"type":"quantitative"},"y":{"field":"lv","type":"quantitative"},"text":{"field":"t"}}},
{"mark":{"type":"line","color":"#1e90ff","strokeWidth":1},"data":{"name":"rsi"},
 "encoding":{"x":{"field":"i","type":"quantitative","scale":{"domain":[-0.75,375.25],"nice":false,"zero":false},
   "axis":{"orient":"bottom","values":[0,32,64,96,128,160,192,224,256,288,320,352],"labelExpr":"['16 May 2023','24 May 04:00','31 May 12:00','7 Jun 20:00','15 Jun 04:00','22 Jun 12:00','29 Jun 20:00','7 Jul 04:00','14 Jul 12:00','21 Jul 20:00','31 Jul 04:00','7 Aug 12:00'][round(datum.value/32)]","labelAlign":"left","labelFlush":false,"labelOverlap":false,"labelBound":false,"tickSize":4,"labelPadding":3,"title":null}},
   "y":{"field":"v","type":"quantitative"}}},
{"mark":{"type":"text","font":"Liberation Sans","fontSize":9.5,"color":"#000000","align":"left","baseline":"middle","dx":5},"data":{"values":[{"t":"RSI(14) 67.9519"}]},
 "encoding":{"x":{"datum":-0.75,"type":"quantitative"},"y":{"datum":90.9,"type":"quantitative"},"text":{"field":"t"}}}
]
}
]
}
